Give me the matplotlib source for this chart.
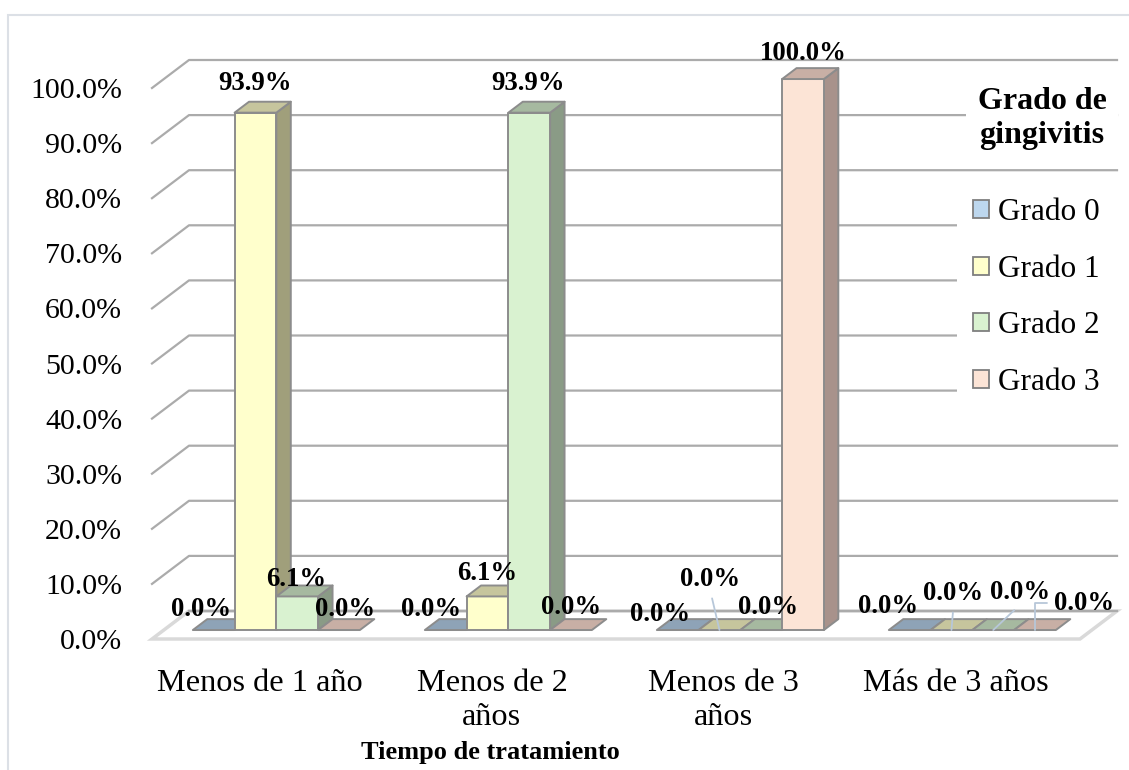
"""
Gingivitis grade by treatment time: Excel-style 3D clustered columns,
redrawn flat with matplotlib polygons.
"""

import numpy as np
import matplotlib
matplotlib.use("Agg")
import matplotlib.pyplot as plt
from matplotlib.patches import Polygon, Patch, Rectangle


# ── Data ──────────────────────────────────────────────────────

categories = ["Menos de 1 año", "Menos de 2\naños", "Menos de 3\naños", "Más de 3 años"]
series = ["Grado 0", "Grado 1", "Grado 2", "Grado 3"]
grado_0 = [0.0, 0.0, 0.0, 0.0]
grado_1 = [93.9, 6.1, 0.0, 0.0]
grado_2 = [6.1, 93.9, 0.0, 0.0]
grado_3 = [0.0, 0.0, 100.0, 0.0]
y_ticks = [0, 10, 20, 30, 40, 50, 60, 70, 80, 90, 100]

values = [grado_0, grado_1, grado_2, grado_3]

# ── Style ─────────────────────────────────────────────────────

FRONT = ["#BDD7EE", "#FFFFCC", "#D9F2D0", "#FCE4D6"]
TOP = ["#8EA3B7", "#C6C59D", "#A6B9A0", "#C8AFA5"]
SIDE = ["#7E93A5", "#A09F7B", "#8A9B86", "#A8928B"]
EDGE = "#8C8C8C"
GRID = "#ABABAB"
FLOOR = "#D9D9D9"
LEADER = "#B7C7D9"

W, H = 1129, 770
PX_X = 232.0          # pixels per category
PX_Y = 5.51           # pixels per percent
DX = 37 / PX_X        # depth of the back wall
DY = 28 / PX_Y
BAR_W = 0.18
GAP_L = 0.125
F0, F1 = 0.32, 0.71   # bar depth (fraction of floor depth)

# label offsets in pixels from the front-top centre of each bar
LABEL_OFF = {
    (0, 0): (-13, 21), (0, 1): (0, 29), (0, 2): (-1, 17), (0, 3): (6, 21),
    (1, 0): (-15, 21), (1, 1): (0, 23), (1, 2): (-1, 29), (1, 3): (0, 23),
    (2, 0): (-18, 16), (2, 1): (-9, 51), (2, 2): (7, 23), (2, 3): (0, 26),
    (3, 0): (-22, 24), (3, 1): (2, 37), (3, 2): (27, 38), (3, 3): (49, 27),
}
LEADERS = {
    (2, 1): dict(relpos=(0.5, 0.0)),
    (3, 1): dict(relpos=(0.5, 0.0)),
    (3, 2): dict(relpos=(0.5, 0.0)),
    (3, 3): dict(relpos=(0.0, 0.5), connectionstyle="angle,angleA=180,angleB=90,rad=0"),
}

plt.rcParams["font.family"] = ["Liberation Serif", "DejaVu Serif"]

fig = plt.figure(figsize=(W / 100, H / 100), dpi=100, facecolor="white")
ax = fig.add_axes([150 / W, (H - 639) / H, 970 / W, 599 / H])
ax.set_facecolor("none")
x0 = -0.5 - 2 / PX_X
ax.set_xlim(x0, x0 + 970 / PX_X)
ax.set_ylim(0, 599 / PX_Y)
for s in ax.spines.values():
    s.set_visible(False)

# outer chart border
fig.add_artist(Rectangle((8 / W, -0.05), 1.1, 1 - 15 / H + 0.05,
                         transform=fig.transFigure, fill=False,
                         edgecolor="#DCE0E6", linewidth=1.5))

# ── Walls / gridlines ─────────────────────────────────────────

n = len(categories)
xl, xr = -0.5, n - 0.5
ax.add_patch(Polygon([(xl, 0), (xr, 0), (xr + DX, DY), (xl + DX, DY)],
                     closed=True, fill=False, edgecolor=FLOOR, linewidth=2.5,
                     zorder=1, clip_on=False))
ax.plot([xl + DX, xr + DX], [DY, DY], color=GRID, lw=1.6, zorder=1,
        clip_on=False)
for v in y_ticks[1:]:
    ax.plot([xl, xl + DX, xr + DX], [v, v + DY, v + DY], color=GRID, lw=1.6,
            zorder=1, clip_on=False)

# ── Bars ──────────────────────────────────────────────────────

for i in range(n):
    for j in range(len(series)):
        v = values[j][i]
        bl = i - 0.5 + GAP_L + BAR_W * j
        br = bl + BAR_W
        fx0, fy0 = F0 * DX, F0 * DY
        bx1, by1 = F1 * DX, F1 * DY
        kw = dict(closed=True, edgecolor=EDGE, linewidth=1.4, zorder=2,
                  clip_on=False, joinstyle="round")
        if v > 0:
            ax.add_patch(Polygon([(br + fx0, fy0), (br + bx1, by1),
                                  (br + bx1, by1 + v), (br + fx0, fy0 + v)],
                                 facecolor=SIDE[j], **kw))
            ax.add_patch(Polygon([(bl + fx0, fy0), (br + fx0, fy0),
                                  (br + fx0, fy0 + v), (bl + fx0, fy0 + v)],
                                 facecolor=FRONT[j], **kw))
        ax.add_patch(Polygon([(bl + fx0, fy0 + v), (br + fx0, fy0 + v),
                              (br + bx1, by1 + v), (bl + bx1, by1 + v)],
                             facecolor=TOP[j], **kw))

        # data label
        cx = (bl + br) / 2 + fx0
        dxp, dyp = LABEL_OFF[(i, j)]
        ap = None
        if (i, j) in LEADERS:
            ap = dict(arrowstyle="-", color=LEADER, lw=1.3, shrinkA=3, shrinkB=0)
            ap.update(LEADERS[(i, j)])
        ax.annotate(f"{v:.1f}%", xy=(cx, fy0 + v), xytext=(dxp, dyp),
                    textcoords="offset pixels", ha="center", va="center",
                    fontsize=19.3, fontweight="bold", color="black",
                    arrowprops=ap, zorder=5, annotation_clip=False)

# ── Axes text ─────────────────────────────────────────────────

ax.set_yticks(y_ticks)
ax.set_yticklabels([f"{v:.1f}%" for v in y_ticks])
ax.tick_params(axis="y", length=0, pad=20, labelsize=21.5)
ax.set_xticks(np.arange(n) - 0.035)
ax.set_xticklabels(categories)
ax.tick_params(axis="x", length=0, pad=21.5, labelsize=23.2)
for t in ax.get_xticklabels():
    t.set_linespacing(1.22)

ax.set_xlabel("Tiempo de tratamiento", fontsize=19, fontweight="bold")
ax.xaxis.set_label_coords((490 - 150) / 970, (639 - 752) / 599)
ax.xaxis.label.set_va("center")

# ── Legend ────────────────────────────────────────────────────

# white backing so the back gridlines stop at the legend, as in Excel
ax.add_patch(Rectangle((957 / W, 1 - 404 / H), 165 / W, 218 / H,
                       transform=fig.transFigure, facecolor="white",
                       edgecolor="none", zorder=8, clip_on=False))

handles = [Patch(facecolor=FRONT[j], edgecolor="#7F7F7F", linewidth=1.3,
                 label=series[j]) for j in range(len(series))]
leg = ax.legend(handles=handles, loc="upper left",
                bbox_to_anchor=(964 / W, 1 - 189 / H), bbox_transform=fig.transFigure,
                frameon=True, fancybox=False, framealpha=1, facecolor="white",
                edgecolor="white", fontsize=22.5, handlelength=0.5,
                handleheight=0.5, handletextpad=0.3, labelspacing=0.88,
                borderpad=0.3, borderaxespad=0)
leg.set_zorder(10)

fig.text(1042 / W, 1 - 118.5 / H, "Grado de\ngingivitis", ha="center", va="center",
         fontsize=23, fontweight="bold", linespacing=1.25, zorder=10,
         bbox=dict(boxstyle="square,pad=0.35", facecolor="white", edgecolor="none"))

fig.savefig("out.png", dpi=100, facecolor="white")
